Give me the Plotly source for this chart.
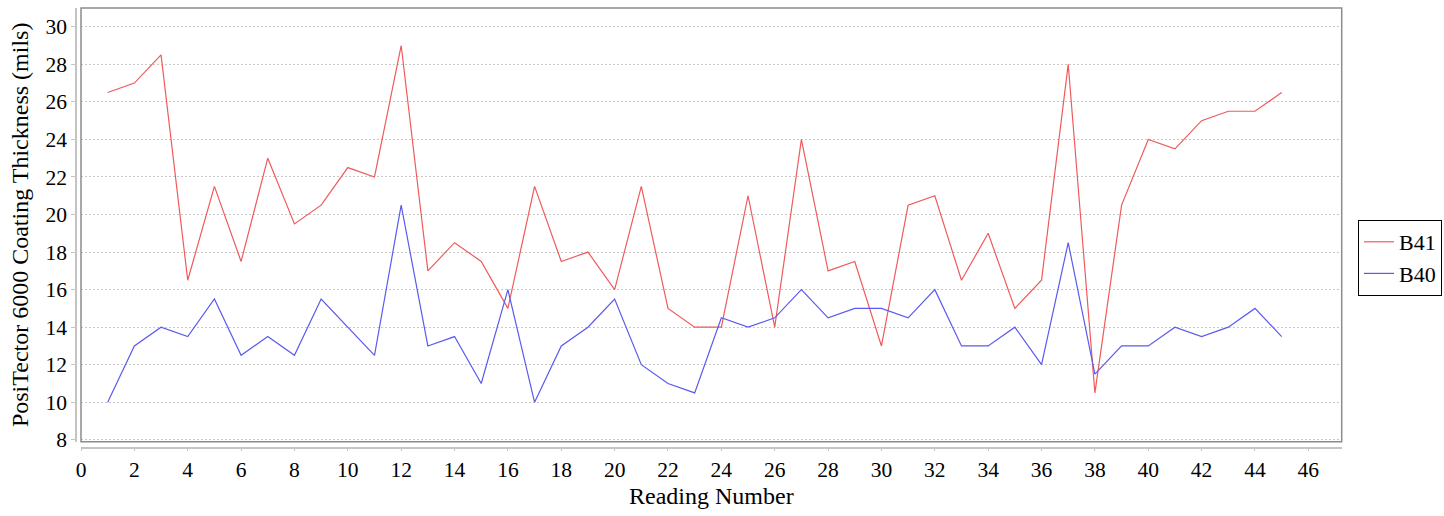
import plotly.graph_objects as go

# Coating thickness readings (mils) for two panels
reading = list(range(1, 46))
b41 = [26.5, 27, 28.5, 16.5, 21.5, 17.5, 23, 19.5, 20.5, 22.5,
       22, 29, 17, 18.5, 17.5, 15, 21.5, 17.5, 18, 16,
       21.5, 15, 14, 14, 21, 14, 24, 17, 17.5, 13,
       20.5, 21, 16.5, 19, 15, 16.5, 28, 10.5, 20.5, 24,
       23.5, 25, 25.5, 25.5, 26.5]
b40 = [10, 13, 14, 13.5, 15.5, 12.5, 13.5, 12.5, 15.5, 14,
       12.5, 20.5, 13, 13.5, 11, 16, 10, 13, 14, 15.5,
       12, 11, 10.5, 14.5, 14, 14.5, 16, 14.5, 15, 15,
       14.5, 16, 13, 13, 14, 12, 18.5, 11.5, 13, 13,
       14, 13.5, 14, 15, 13.5]

W, H = 1444, 516
FONT = "Liberation Serif"
tick_font = dict(family=FONT, size=21.5, color="black")
title_font = dict(family=FONT, size=24, color="black")

fig = go.Figure()
fig.add_trace(go.Scatter(x=reading, y=b41, mode="lines", name="B41",
                         line=dict(color="#f05a5a", width=1.2)))
fig.add_trace(go.Scatter(x=reading, y=b40, mode="lines", name="B40",
                         line=dict(color="#5a5af0", width=1.2)))

# plot-area box
fig.add_shape(type="rect", xref="x domain", yref="y domain",
              x0=0, x1=1, y0=0, y1=1, layer="above",
              line=dict(color="#8c8c8c", width=1.5))

fig.update_layout(
    width=W, height=H,
    margin=dict(l=0, r=0, t=0, b=0),
    paper_bgcolor="white", plot_bgcolor="white",
    font=dict(family=FONT, size=22, color="black"),
    showlegend=True,
    legend=dict(x=1358 / W, xanchor="left", y=1 - 258 / H, yanchor="middle",
                bordercolor="black", borderwidth=1, bgcolor="white",
                font=dict(family=FONT, size=22, color="black"),
                itemwidth=30, tracegroupgap=0),
    xaxis=dict(
        domain=[81 / W, 1341.7 / W], anchor="free", position=1 - 447.5 / H,
        range=[0, 47.25], tick0=0, dtick=2,
        showgrid=False, zeroline=False,
        showline=True, linecolor="#c4c4c4", linewidth=1.5,
        ticks="outside", ticklen=3, tickcolor="#c4c4c4",
        tickfont=tick_font,
        title=dict(text="Reading Number", standoff=5, font=title_font),
        automargin=False,
    ),
    yaxis=dict(
        domain=[1 - 441.7 / H, 1 - 8 / H], anchor="free", position=76 / W,
        range=[7.9, 31.0], tick0=8, dtick=2,
        showgrid=True, gridcolor="#c8c8c8", gridwidth=1, griddash="2px,2px",
        zeroline=False,
        showline=True, linecolor="#c4c4c4", linewidth=1.5,
        ticks="outside", ticklen=4, tickcolor="#c4c4c4",
        tickfont=tick_font,
        title=dict(text="PosiTector 6000 Coating Thickness (mils)", standoff=9,
                   font=title_font),
        automargin=False,
    ),
)

fig.write_html("out.html")
